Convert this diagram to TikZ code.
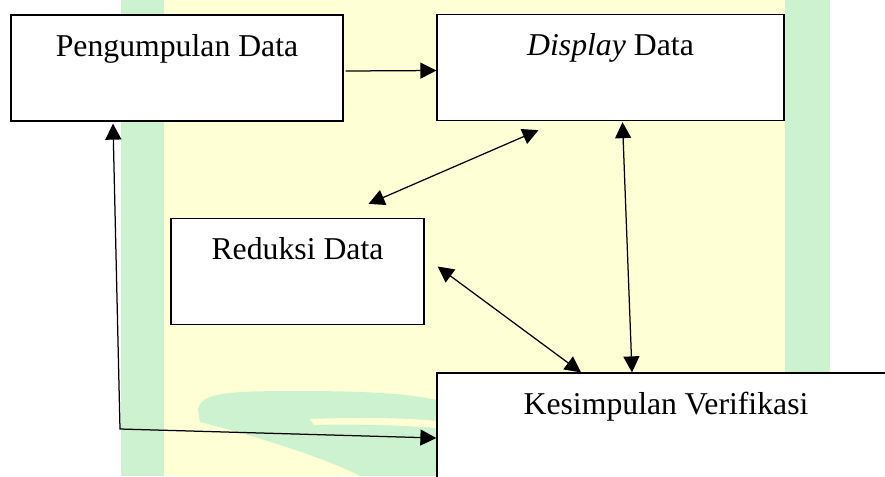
\documentclass[tikz,border=0pt]{standalone}
\usepackage{fontspec}
\setmainfont{Liberation Serif}
\usetikzlibrary{arrows.meta,calc}
\definecolor{hijau}{RGB}{205,242,208}
\definecolor{kuning}{RGB}{255,255,214}
\tikzset{
  kotak/.style={draw, line width=0.5pt, fill=white, inner sep=0pt,
    text height=16.4pt, text depth=26pt, font=\fontsize{12.7}{15}\selectfont},
  panah/.style={line width=0.5pt, >={Triangle[length=6.4pt,width=6.4pt]}}
}
\begin{document}
\begin{tikzpicture}[x=0.4pt,y=-0.4pt]
\useasboundingbox (0,0) rectangle (885,476);
\clip (0,0) rectangle (885,476);
\fill[white] (0,0) rectangle (885,476);
\fill[kuning] (164,0) rectangle (785,476);
\fill[hijau] (121,0) rectangle (164,476);
\fill[hijau] (785,0) rectangle (830,476);
\fill[hijau] (198,410) .. controls (200,392) and (230,391) .. (300,391)
  .. controls (370,391) and (410,394) .. (437,400)
  -- (437,476) -- (360,476) .. controls (320,455) and (240,432) .. (200,422) -- cycle;
\fill[kuning] (310,419) .. controls (360,417) and (410,418) .. (437,421)
  -- (437,428) .. controls (400,425) and (350,424) .. (314,425) -- cycle;

\node[kotak, minimum width=132.8pt] (pengumpulan) at (177,68) {Pengumpulan Data};
\node[kotak, minimum width=138.8pt] (display) at (610.5,67.5) {\textit{Display} Data};
\node[kotak, minimum width=101.2pt] (reduksi) at (297.5,271.5) {Reduksi Data};
\node[kotak, minimum width=183.2pt] (kesimpulan) at (666,426) {Kesimpulan Verifikasi};
\coordinate (sudut) at (120,429);

\draw[panah,->] ($(pengumpulan.east)+(2,3)$) -- ($(display.west)+(0,3)$);
\draw[panah,<->] ($(display.south)+(-72,9)$) -- ($(reduksi.north)+(71,-14)$);
\draw[panah,<->] ($(display.south)+(12,1)$) -- ($(kesimpulan.north)+(-34,0)$);
\draw[panah,<->] ($(reduksi.east)+(13,-5)$) -- ($(kesimpulan.north)+(-85,0)$);
\draw[panah,<->] ($(pengumpulan.south)+(-64,2)$) -- (sudut) -- ($(kesimpulan.west)+(0,12)$);
\end{tikzpicture}
\end{document}
